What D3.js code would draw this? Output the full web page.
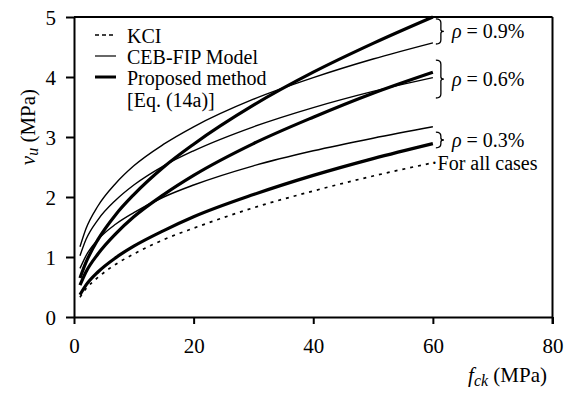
<!DOCTYPE html>
<html>
<head>
<meta charset="utf-8">
<script src="https://cdn.jsdelivr.net/npm/d3@7/dist/d3.min.js"></script>
<style>
  body { margin: 0; background: #fff; }
  text { font-family: "Liberation Serif", "Times New Roman", serif; fill: #000; }
</style>
</head>
<body>
<div id="chart"></div>
<script>
// values (fck in MPa, vu in MPa)
var fck       = [1, 2, 4, 7, 10, 15, 20, 30, 40, 50, 60];
var kci       = [0.33, 0.47, 0.66, 0.88, 1.05, 1.29, 1.48, 1.82, 2.10, 2.35, 2.57];
var ceb03     = [0.81, 1.02, 1.29, 1.55, 1.74, 2.00, 2.20, 2.52, 2.77, 2.98, 3.17];
var ceb06     = [1.02, 1.29, 1.62, 1.95, 2.20, 2.52, 2.77, 3.17, 3.49, 3.76, 3.99];
var ceb09     = [1.17, 1.47, 1.85, 2.23, 2.52, 2.88, 3.17, 3.63, 3.99, 4.30, 4.57];
var prop03    = [0.37, 0.53, 0.75, 0.99, 1.18, 1.44, 1.67, 2.04, 2.36, 2.64, 2.89];
var prop06    = [0.53, 0.75, 1.05, 1.39, 1.67, 2.04, 2.36, 2.89, 3.33, 3.73, 4.08];
var prop09    = [0.65, 0.91, 1.29, 1.71, 2.04, 2.50, 2.88, 3.53, 4.08, 4.56, 5.00];

var xTicks = [0, 20, 40, 60, 80];
var yTicks = [0, 1, 2, 3, 4, 5];

var legendLabels = ["KCI", "CEB-FIP Model", "Proposed method", "[Eq. (14a)]"];

// brace groups: [low, high] in vu, label
var braceLow   = [4.55, 3.65, 2.82];
var braceHigh  = [4.97, 4.28, 3.08];
var braceLabel = ["0.9%", "0.6%", "0.3%"];

var width = 573, height = 394;
var margin = {left: 74, right: 20, top: 17, bottom: 77};

var x = d3.scaleLinear().domain([0, 80]).range([margin.left, width - margin.right - 0.5]);
var y = d3.scaleLinear().domain([0, 5]).range([height - margin.bottom, margin.top]);

var svg = d3.select("#chart").append("svg")
    .attr("width", width)
    .attr("height", height);

svg.append("rect").attr("width", width).attr("height", height).attr("fill", "#fff");

var series = [
  {vals: kci,    w: 1.7, dash: "3,5"},
  {vals: ceb03,  w: 1.4},
  {vals: ceb06,  w: 1.4},
  {vals: ceb09,  w: 1.4},
  {vals: prop03, w: 3.2},
  {vals: prop06, w: 3.2},
  {vals: prop09, w: 3.2}
];

var line = d3.line()
    .x(function(d) { return x(d[0]); })
    .y(function(d) { return y(d[1]); })
    .curve(d3.curveMonotoneX);

svg.selectAll(".curve")
    .data(series)
  .enter().append("path")
    .attr("class", "curve")
    .attr("d", function(s) { return line(fck.map(function(f, i) { return [f, s.vals[i]]; })); })
    .attr("fill", "none")
    .attr("stroke", "#000")
    .attr("stroke-width", function(s) { return s.w; })
    .attr("stroke-dasharray", function(s) { return s.dash || null; });

// frame: top and right borders
svg.append("line")
    .attr("x1", x(0)).attr("x2", x(80))
    .attr("y1", y(5)).attr("y2", y(5))
    .attr("stroke", "#000").attr("stroke-width", 2);
svg.append("line")
    .attr("x1", x(80)).attr("x2", x(80))
    .attr("y1", y(5)).attr("y2", y(0) + 7)
    .attr("stroke", "#000").attr("stroke-width", 2);

// axes
var xAxis = svg.append("g")
    .attr("transform", "translate(0," + y(0) + ")")
    .call(d3.axisBottom(x).tickValues(xTicks).tickFormat(d3.format("d"))
      .tickSize(7).tickPadding(14).tickSizeOuter(0));
var yAxis = svg.append("g")
    .attr("transform", "translate(" + x(0) + ",0)")
    .call(d3.axisLeft(y).tickValues(yTicks).tickFormat(d3.format("d"))
      .tickSize(8).tickPadding(10).tickSizeOuter(0));

[xAxis, yAxis].forEach(function(a) {
  a.attr("font-family", "Liberation Serif").attr("font-size", 21);
  a.select(".domain").attr("stroke-width", 2);
  a.selectAll(".tick line").attr("stroke-width", 2);
  a.selectAll(".tick text")
    .style("font-family", "Liberation Serif")
    .style("font-size", "21px")
    .attr("fill", "#000");
});
yAxis.selectAll(".tick text").attr("dy", "0.34em");

// axis titles
var yt = svg.append("text")
    .attr("transform", "translate(35,127) rotate(-90)")
    .attr("text-anchor", "middle")
    .style("font-size", "21px");
yt.append("tspan").style("font-style", "italic").text("v");
yt.append("tspan").style("font-style", "italic").style("font-size", "16px").attr("dy", 3).text("u");
yt.append("tspan").attr("dy", -3).text(" (MPa)");

var xt = svg.append("text")
    .attr("x", 547).attr("y", 382)
    .attr("text-anchor", "end")
    .style("font-size", "21px");
xt.append("tspan").style("font-style", "italic").text("f");
xt.append("tspan").style("font-style", "italic").style("font-size", "16px").attr("dy", 4).text("ck");
xt.append("tspan").attr("dy", -4).text(" (MPa)");

// legend
var legendY = [43, 64, 85, 107];
var legendStyle = [
  {w: 1.5, dash: "4,3"},
  {w: 1.2},
  {w: 3}
];
legendStyle.forEach(function(s, i) {
  svg.append("line")
    .attr("x1", 95).attr("x2", 116)
    .attr("y1", legendY[i] - 8).attr("y2", legendY[i] - 8)
    .attr("stroke", "#000")
    .attr("stroke-width", s.w)
    .attr("stroke-dasharray", s.dash || null);
});
svg.selectAll(".leg")
    .data(legendLabels)
  .enter().append("text")
    .attr("class", "leg")
    .attr("x", 127)
    .attr("y", function(d, i) { return legendY[i]; })
    .style("font-size", "20px")
    .text(function(d) { return d; });

// braces for reinforcement ratio
var bx = x(60) + 7;
braceLow.forEach(function(lo, i) {
  var y0 = y(braceHigh[i]), y1 = y(lo), ym = (y0 + y1) / 2;
  var p = d3.path();
  p.moveTo(bx - 4, y0);
  p.quadraticCurveTo(bx + 1, y0, bx + 1, y0 + 4);
  p.lineTo(bx + 1, ym - 2);
  p.quadraticCurveTo(bx + 1, ym, bx + 4, ym);
  p.quadraticCurveTo(bx + 1, ym, bx + 1, ym + 2);
  p.lineTo(bx + 1, y1 - 4);
  p.quadraticCurveTo(bx + 1, y1, bx - 4, y1);
  svg.append("path")
    .attr("d", p.toString())
    .attr("fill", "none")
    .attr("stroke", "#000")
    .attr("stroke-width", 1.3);

  var t = svg.append("text")
    .attr("x", bx + 12)
    .attr("y", ym + 7)
    .style("font-size", "20px");
  t.append("tspan").style("font-style", "italic").text("\u03c1");
  t.append("tspan").text(" = " + braceLabel[i]);
});

svg.append("text")
    .attr("x", x(60) - 2)
    .attr("y", y(kci[kci.length - 1]) + 7)
    .style("font-size", "20px")
    .text("\u00b7For all cases");
</script>
</body>
</html>
